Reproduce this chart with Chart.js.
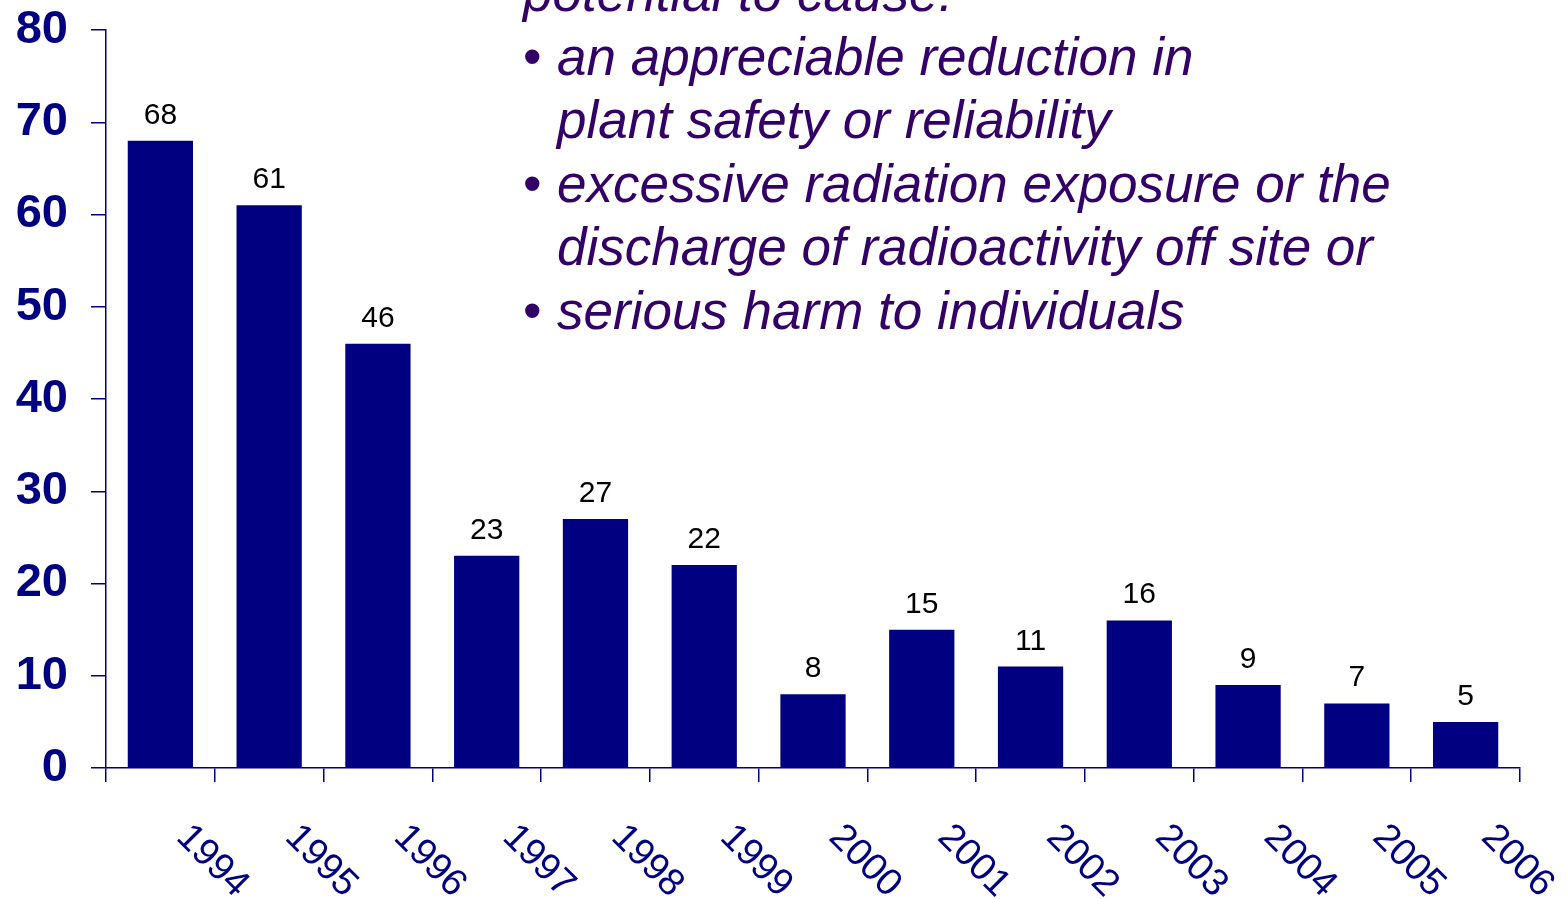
<!DOCTYPE html>
<html>
<head>
<meta charset="utf-8">
<title>Events per year</title>
<script src="https://cdn.jsdelivr.net/npm/chart.js@4/dist/chart.umd.min.js"></script>
<style>
  html, body { margin: 0; padding: 0; background: #fff; overflow: hidden; }
  #wrap { position: relative; width: 1567px; height: 899px; }
  #chart { position: absolute; left: 0; top: 0; }
  #note {
    position: absolute; left: 523px; top: -38.6px;
    font: italic 53px "Liberation Sans", Arial, sans-serif;
    line-height: 63.5px; color: #330066; white-space: nowrap;
  }
  #note .item { position: relative; padding-left: 34px; }
  #note .bullet { position: absolute; left: 0; top: 0; font-style: normal; }
</style>
</head>
<body>
<div id="wrap">
  <canvas id="chart" width="1567" height="899"></canvas>
  <div id="note">
    <div>potential to cause:</div>
    <div class="item"><span class="bullet">&bull;</span>an appreciable reduction in</div>
    <div class="item">plant safety or reliability</div>
    <div class="item"><span class="bullet">&bull;</span>excessive radiation exposure or the</div>
    <div class="item">discharge of radioactivity off site or</div>
    <div class="item"><span class="bullet">&bull;</span>serious harm to individuals</div>
  </div>
</div>
<script>
/*
  Yearly counts, one bar per year
*/
var years = ['1994', '1995', '1996', '1997', '1998', '1999', '2000',
             '2001', '2002', '2003', '2004', '2005', '2006'];
var counts = [68, 61, 46, 23, 27, 22, 8, 15, 11, 16, 9, 7, 5];
var yTicks = [0, 10, 20, 30, 40, 50, 60, 70, 80];

var NAVY = '#000080';
var FONT = '"Liberation Sans", Arial, sans-serif';

// value printed above each bar
var barValues = {
    id: 'barValues',
    afterDatasetsDraw: function(chart) {
        var ctx = chart.ctx;
        var meta = chart.getDatasetMeta(0);
        ctx.save();
        ctx.font = '30px ' + FONT;
        ctx.fillStyle = '#000';
        ctx.textAlign = 'center';
        ctx.textBaseline = 'alphabetic';
        meta.data.forEach(function(bar, i) {
            ctx.fillText(String(counts[i]), bar.x, bar.y - 17);
        });
        ctx.restore();
    }
};

// year labels slanted downwards (clockwise), which the built-in ticks can't do
var slantedYears = {
    id: 'slantedYears',
    afterDraw: function(chart) {
        var ctx = chart.ctx;
        var xs = chart.scales.x;
        var size = 38;
        ctx.save();
        ctx.font = size + 'px ' + FONT;
        ctx.fillStyle = NAVY;
        ctx.textAlign = 'center';
        ctx.textBaseline = 'alphabetic';
        years.forEach(function(label, i) {
            var x = xs.getPixelForValue(i);
            ctx.save();
            ctx.translate(x + 54, 859);
            ctx.rotate(Math.PI / 4);
            ctx.fillText(label, 0, size * 0.358);
            ctx.restore();
        });
        ctx.restore();
    }
};

new Chart(document.getElementById('chart'), {
    type: 'bar',
    data: {
        labels: years,
        datasets: [{
            data: counts,
            backgroundColor: NAVY,
            borderWidth: 0,
            barPercentage: 0.6,
            categoryPercentage: 1
        }]
    },
    options: {
        responsive: false,
        animation: false,
        events: [],
        layout: { padding: { top: 30, right: 47, left: 0, bottom: 0 } },
        plugins: { legend: { display: false }, tooltip: { enabled: false } },
        scales: {
            x: {
                offset: true,
                grid: { offset: true, drawOnChartArea: false, tickLength: 14, color: NAVY, lineWidth: 1.5 },
                border: { color: NAVY, width: 1.5 },
                ticks: { display: false },
                afterFit: function(scale) { scale.height = 131; }
            },
            y: {
                min: 0,
                max: 80,
                afterBuildTicks: function(scale) {
                    scale.ticks = yTicks.map(function(v) { return { value: v }; });
                },
                grid: { drawOnChartArea: false, tickLength: 15, color: NAVY, lineWidth: 1.5 },
                border: { color: NAVY, width: 1.5 },
                ticks: {
                    padding: 23,
                    color: NAVY,
                    font: { family: FONT, size: 47, weight: 'bold' }
                },
                afterFit: function(scale) {
                    // the tick padding would otherwise push the plot top down
                    scale.width = 106;
                    scale.paddingTop = 0;
                    scale.paddingBottom = 0;
                }
            }
        }
    },
    plugins: [barValues, slantedYears]
});
</script>
</body>
</html>
